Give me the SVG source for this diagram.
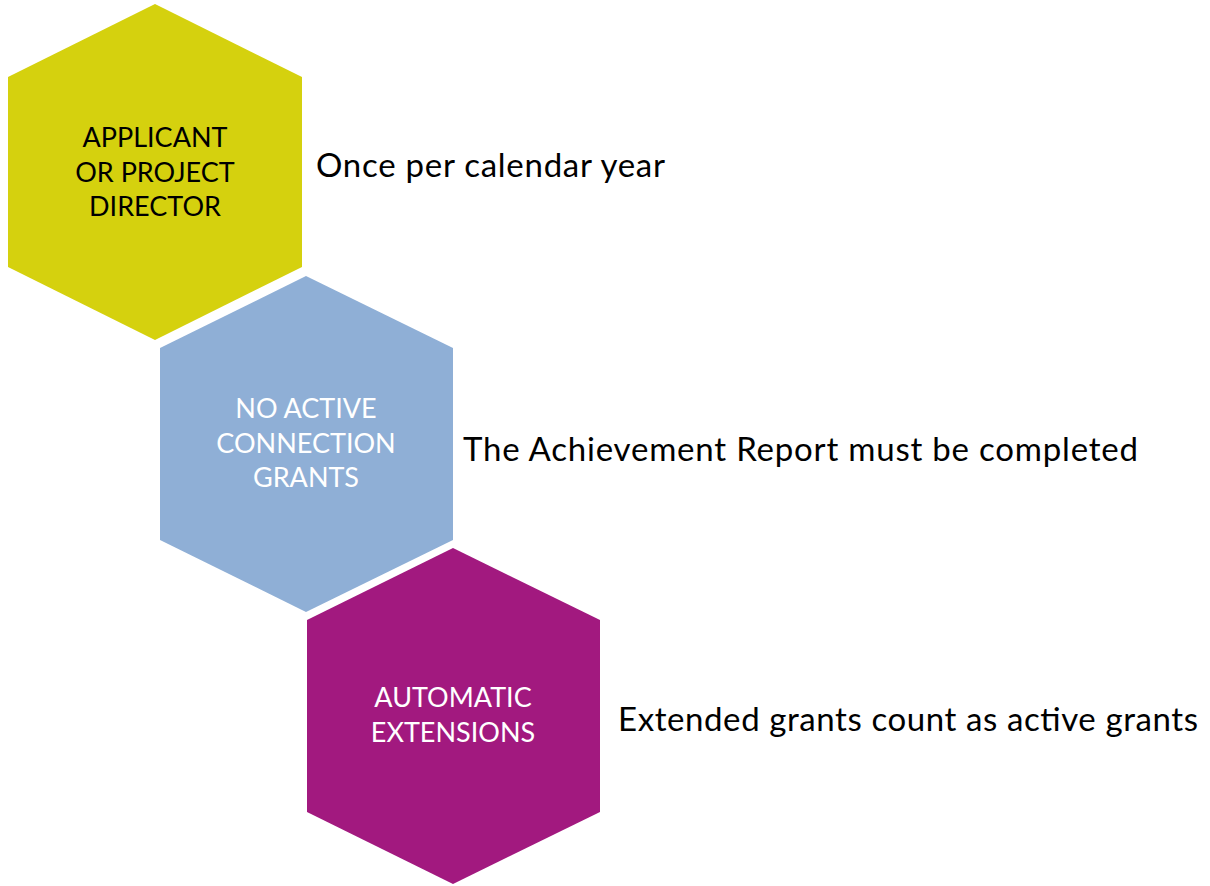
<svg xmlns="http://www.w3.org/2000/svg" width="1210" height="886" viewBox="0 0 1210 886">
<style>
.hx-label{font-family:Lato,"Open Sans","Liberation Sans",sans-serif;font-size:27px;text-anchor:middle}
.side{font-family:Lato,"Open Sans","Liberation Sans",sans-serif;font-size:33px;fill:#000}
</style>
<rect width="1210" height="886" fill="#ffffff"/>
<g id="connectors"></g>
<g id="node-applicant">
<polygon points="155,4 302,77 302,267 155,340 8,267 8,77" fill="#D5D10E"/>
<text class="hx-label" fill="#000"><tspan x="155" y="147">APPLICANT</tspan><tspan x="155" y="182">OR PROJECT</tspan><tspan x="155" y="216">DIRECTOR</tspan></text>
</g>
<g id="node-no-active">
<polygon points="306,276 453,348 453,540 306,612 160,540 160,348" fill="#8FAFD6"/>
<text class="hx-label" fill="#fff"><tspan x="306" y="418">NO ACTIVE</tspan><tspan x="306" y="453">CONNECTION</tspan><tspan x="306" y="487">GRANTS</tspan></text>
</g>
<g id="node-automatic">
<polygon points="453,548 600,620 600,812 453,884 307,812 307,620" fill="#A2197F"/>
<text class="hx-label" fill="#fff"><tspan x="453" y="707">AUTOMATIC</tspan><tspan x="453" y="742">EXTENSIONS</tspan></text>
</g>
<g id="label-1"><text class="side" x="316" y="177" textLength="349">Once per calendar year</text></g>
<g id="label-2"><text class="side" x="463" y="461" textLength="675">The Achievement Report must be completed</text></g>
<g id="label-3"><text class="side" x="618" y="731" textLength="580">Extended grants count as active grants</text></g>
</svg>
